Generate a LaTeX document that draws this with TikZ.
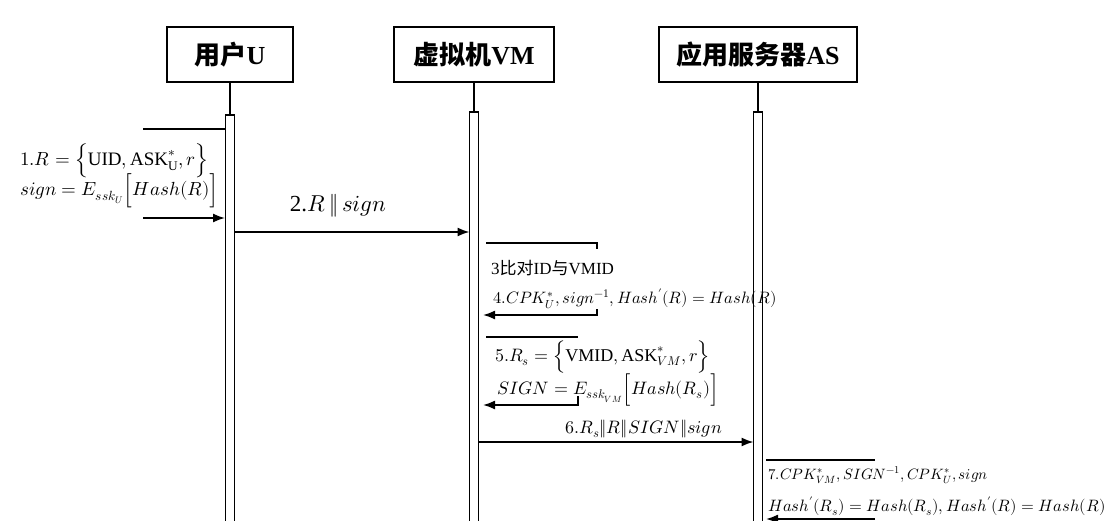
\documentclass[tikz,border=0pt]{standalone}
\usepackage{fontspec}
\usepackage{unicode-math}
\setmainfont{Liberation Serif}
\setmathfont{Latin Modern Math}
\newfontfamily\cjk{Noto Sans CJK SC}
\usetikzlibrary{arrows.meta}
\newcommand\fs[1]{\fontsize{#1}{#1}\selectfont}
\begin{document}
\begin{tikzpicture}[x=1pt,y=-1pt,
  actor/.style={draw,line width=1.8pt,minimum height=55pt,inner sep=0pt,font=\fs{26}\bfseries},
  life/.style={line width=1.8pt},
  barl/.style={line width=1.2pt,fill=white},
  msg/.style={line width=1.6pt},
  arr/.style={msg,-{Latex[length=12pt,width=9pt]}},
  lbl/.style={inner sep=0pt,anchor=west},
]
\useasboundingbox (0,0) rectangle (1107,521);

% actors
\node[actor,minimum width=126pt] (U) at (230,54.5) {{\cjk 用户}U};
\node[actor,minimum width=160pt] (VM) at (474,54.5) {{\cjk 虚拟机}VM};
\node[actor,minimum width=198pt] (AS) at (758,54.5) {{\cjk 应用服务器}AS};

% bar tops
\coordinate (Ut) at (230,115);
\coordinate (Vt) at (474,112);
\coordinate (At) at (758,112);

\draw[life] (U.south) -- (Ut);
\draw[life] (VM.south) -- (Vt);
\draw[life] (AS.south) -- (At);

% activation bars
\draw[barl] (225.5,522) -- (225.5,115) -- (234.5,115) -- (234.5,522);
\draw[barl] (469.5,522) -- (469.5,112) -- (478.5,112) -- (478.5,522);
\draw[barl] (753.5,522) -- (753.5,112) -- (762.5,112) -- (762.5,522);

% message 1 (self on U)
\coordinate (m1a) at (143,129);
\coordinate (m1b) at (225,129);
\coordinate (m1c) at (143,218);
\coordinate (m1d) at (225,218);
\draw[msg] (m1a) -- (m1b);
\draw[arr] (m1c) -- (m1d);
\node[lbl,font=\fs{19}] (t1a) at (20,161) {$1.R=\Big\{\mathrm{UID},\mathrm{ASK}^{*}_{\mathrm{U}},r\Big\}$};
\node[lbl,font=\fs{19}] (t1b) at (20,191) {$sign=E_{ssk_{U}}\Big[Hash(R)\Big]$};

% message 2
\coordinate (m2a) at (234.5,232);
\coordinate (m2b) at (469.5,232);
\draw[arr] (m2a) -- (m2b);
\node[inner sep=0pt,font=\fs{23}] (t2) at (338,206) {2.$R\,\Vert\,sign$};

% message 3/4 (self on VM)
\coordinate (m3a) at (486,243);
\coordinate (m3b) at (597,243);
\coordinate (m3c) at (597,249);
\draw[msg] (m3a) -- (m3b) -- (m3c);
\node[lbl,font=\fs{17}] (t3) at (491,268) {3{\cjk 比对}ID{\cjk 与}VMID};
\node[lbl,font=\fs{16.5}] (t4) at (493,299) {$4.CPK^{*}_{U},sign^{-1},Hash'(R)=Hash(R)$};
\coordinate (m4a) at (597,309);
\coordinate (m4b) at (597,315);
\coordinate (m4c) at (483,315);
\draw[arr] (m4a) -- (m4b) -- (m4c);

% message 5 (self on VM)
\coordinate (m5a) at (486,337);
\coordinate (m5b) at (578,337);
\draw[msg] (m5a) -- (m5b);
\node[lbl,font=\fs{18}] (t5a) at (495,357) {$5.R_{s}=\Big\{\mathrm{VMID},\mathrm{ASK}^{*}_{VM},r\Big\}$};
\node[lbl,font=\fs{18}] (t5b) at (497,390) {$SIGN=E_{ssk_{VM}}\Big[Hash(R_{s})\Big]$};
\coordinate (m5c) at (578,396);
\coordinate (m5d) at (578,405);
\coordinate (m5e) at (483,405);
\draw[arr] (m5c) -- (m5d) -- (m5e);

% message 6
\coordinate (m6a) at (478.5,442);
\coordinate (m6b) at (753.5,442);
\draw[arr] (m6a) -- (m6b);
\node[inner sep=0pt,anchor=east,font=\fs{18}] (t6) at (722,429) {$6.R_{s}\Vert R\Vert SIGN\Vert sign$};

% message 7 (self on AS)
\coordinate (m7a) at (766,460);
\coordinate (m7b) at (875,460);
\draw[msg] (m7a) -- (m7b);
\node[lbl,font=\fs{15}] (t7a) at (768,475) {$7.CPK^{*}_{VM},SIGN^{-1},CPK^{*}_{U},sign$};
\node[lbl,font=\fs{16.5}] (t7b) at (768,506) {$Hash'(R_{s})=Hash(R_{s}),Hash'(R)=Hash(R)$};
\coordinate (m7c) at (875,519);
\coordinate (m7d) at (766,519);
\draw[arr] (m7c) -- (m7d);
\end{tikzpicture}
\end{document}
